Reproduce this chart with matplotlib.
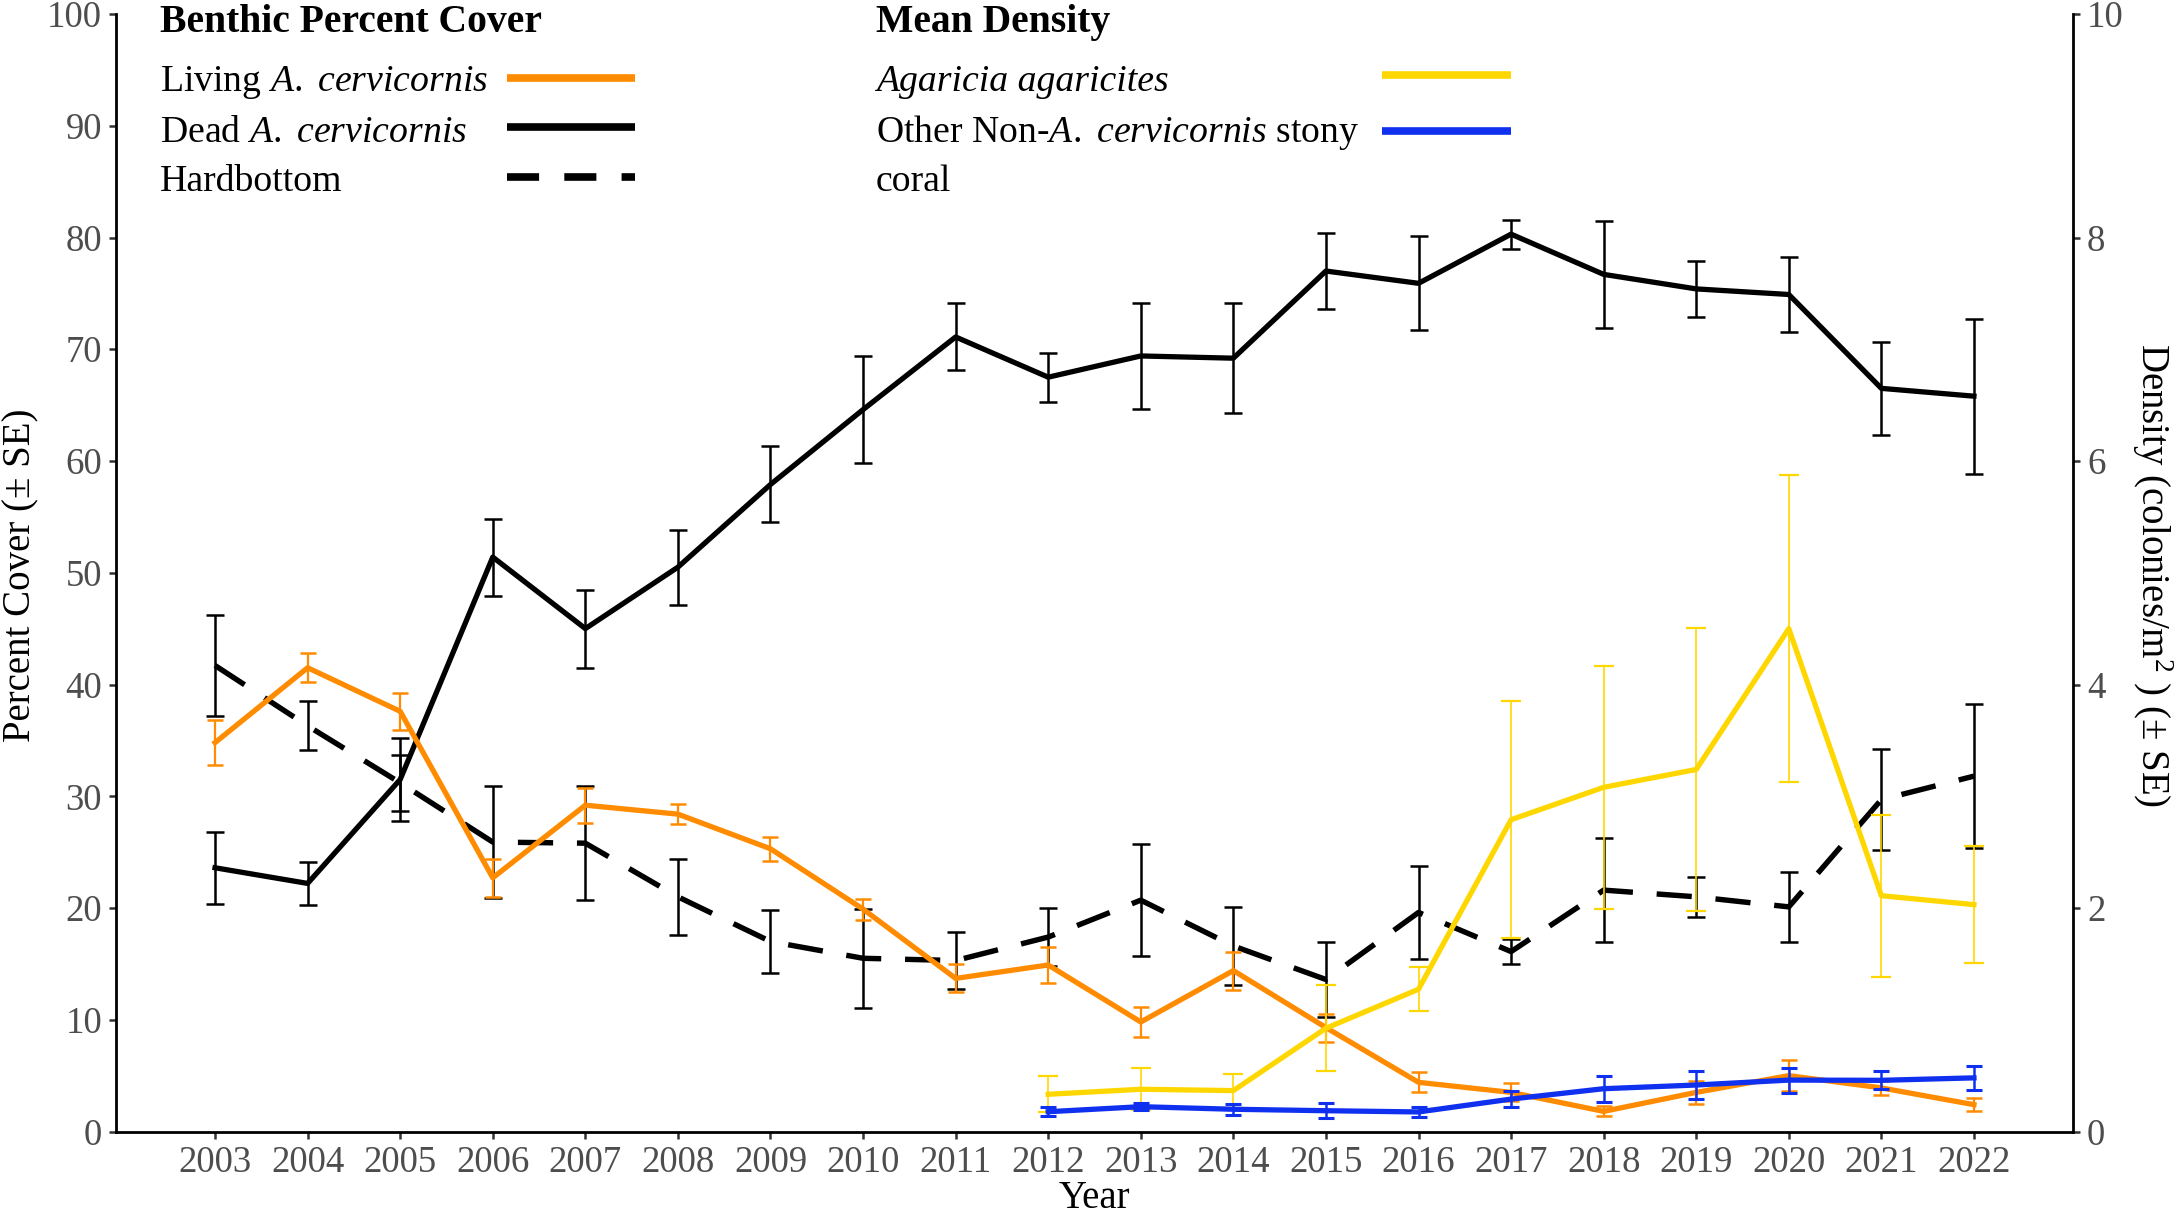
import matplotlib.pyplot as plt
from matplotlib.lines import Line2D

plt.rcParams['font.family'] = 'Liberation Serif'
plt.rcParams['mathtext.fontset'] = 'custom'
plt.rcParams['mathtext.rm'] = 'Liberation Serif'
plt.rcParams['mathtext.it'] = 'Liberation Serif:italic'
plt.rcParams['mathtext.bf'] = 'Liberation Serif:bold'

# benthic percent cover, 2003-2022
years = list(range(2003, 2023))
living = [34.8, 41.5, 37.6, 22.7, 29.2, 28.4, 25.3, 19.9, 13.7, 14.9,
          9.8, 14.4, 9.3, 4.4, 3.5, 1.8, 3.5, 5.0, 3.9, 2.4]
living_se = [2.0, 1.3, 1.65, 1.7, 1.55, 0.9, 1.05, 0.95, 1.25, 1.65,
             1.3, 1.7, 1.25, 0.9, 0.8, 0.45, 1.0, 1.4, 0.65, 0.6]
dead = [23.6, 22.2, 31.5, 51.4, 45.0, 50.5, 57.9, 64.6, 71.1, 67.5,
        69.4, 69.2, 77.0, 75.9, 80.3, 76.7, 75.4, 74.9, 66.5, 65.8]
dead_se = [3.2, 1.9, 3.7, 3.45, 3.5, 3.35, 3.4, 4.8, 3.0, 2.2,
           4.75, 4.9, 3.4, 4.2, 1.3, 4.8, 2.5, 3.35, 4.15, 6.95]
hardbottom = [41.7, 36.3, 31.2, 25.9, 25.8, 21.0, 17.0, 15.5, 15.3, 17.4,
              20.7, 16.6, 13.6, 19.6, 16.1, 21.6, 21.0, 20.1, 29.7, 31.8]
hardbottom_se = [4.5, 2.2, 2.5, 5.0, 5.1, 3.4, 2.85, 4.45, 2.55, 2.6,
                 5.0, 3.45, 3.35, 4.2, 1.1, 4.65, 1.8, 3.1, 4.55, 6.45]

# mean density (colonies/m2), 2012-2022
density_years = list(range(2012, 2023))
agaricia = [0.333, 0.378, 0.366, 0.924, 1.273, 2.79, 3.08, 3.24, 4.50, 2.11, 2.03]
agaricia_se = [0.161, 0.19, 0.152, 0.384, 0.195, 1.06, 1.085, 1.265, 1.375, 0.725, 0.525]
other_coral = [0.177, 0.222, 0.199, 0.186, 0.175, 0.29, 0.383, 0.416, 0.46, 0.458, 0.48]
other_coral_se = [0.042, 0.033, 0.048, 0.067, 0.045, 0.07, 0.117, 0.127, 0.112, 0.079, 0.11]

orange = '#FF8C00'
gold = '#FFD700'
blue = '#1030F0'
tick_grey = '#4D4D4D'

W, H = 2179, 1216
fig = plt.figure(figsize=(W / 100, H / 100), dpi=100)
ax = fig.add_axes([116 / W, 84.5 / H, (2073 - 116) / W, (1202 - 84.5) / H])
ax2 = ax.twinx()

# percent cover
ax.errorbar(years, dead, yerr=dead_se, fmt='none', ecolor='black',
            elinewidth=1.8, capsize=6.5, capthick=1.8)
ax.plot(years, dead, color='black', lw=3.8, solid_joinstyle='round')
ax.errorbar(years, hardbottom, yerr=hardbottom_se, fmt='none', ecolor='black',
            elinewidth=1.8, capsize=6.5, capthick=1.8)
ax.plot(years, hardbottom, color='black', lw=3.9, ls='--', dashes=(6.5, 4.4))
ax.errorbar(years, living, yerr=living_se, fmt='none', ecolor=orange,
            elinewidth=1.6, capsize=6.0, capthick=1.8)
ax.plot(years, living, color=orange, lw=3.8, solid_joinstyle='round')

# density
ax2.errorbar(density_years, agaricia, yerr=agaricia_se, fmt='none', ecolor=gold,
             elinewidth=1.2, capsize=7.0, capthick=1.6)
ax2.plot(density_years, agaricia, color=gold, lw=3.8, solid_joinstyle='round')
ax2.errorbar(density_years, other_coral, yerr=other_coral_se, fmt='none', ecolor=blue,
             elinewidth=1.8, capsize=6.0, capthick=2.2)
ax2.plot(density_years, other_coral, color=blue, lw=3.8, solid_joinstyle='round')

ax.set_xlim(2001.93, 2023.07)
ax.set_ylim(0, 100)
ax2.set_ylim(0, 10)
ax.set_xticks(years)
ax.set_yticks(range(0, 101, 10))
ax2.set_yticks(range(0, 11, 2))

for a in (ax, ax2):
    a.spines['top'].set_visible(False)
    for s in a.spines.values():
        s.set_linewidth(2.0)
    a.tick_params(labelsize=26.5, labelcolor=tick_grey, length=5, width=1.8,
                  color='#333333', pad=5)
ax.spines['right'].set_visible(False)
ax2.spines['left'].set_visible(False)
ax2.spines['bottom'].set_visible(False)

fig.text(1094 / W, 1 - 1199 / H, 'Year', fontsize=28, ha='center', va='center')
fig.text(21 / W, 1 - 575 / H, 'Percent Cover (± SE)', fontsize=28,
         rotation=90, ha='center', va='center')
fig.text(2152 / W, 1 - 575 / H, r'Density (colonies/$\mathrm{m}^{2}$ ) (± SE)',
         fontsize=28, rotation=270, ha='center', va='center')

# legend block, drawn by hand to get the ggplot layout
def fy(y):
    return 1 - y / H

fs = 27.2
fig.text(160 / W, fy(32), 'Benthic Percent Cover', fontsize=28.5,
         fontweight='bold', va='baseline')
fig.text(160 / W, fy(91), r'Living $\mathit{A.}$ $\mathit{cervicornis}$', fontsize=fs, va='baseline')
fig.text(160 / W, fy(142), r'Dead $\mathit{A.}$ $\mathit{cervicornis}$', fontsize=fs, va='baseline')
fig.text(160 / W, fy(191), 'Hardbottom', fontsize=fs, va='baseline')

fig.text(876 / W, fy(32), 'Mean Density', fontsize=28.5, fontweight='bold', va='baseline')
fig.text(876 / W, fy(91), 'Agaricia agaricites', fontsize=fs, style='italic', va='baseline')
fig.text(876 / W, fy(142), r'Other Non-$\mathit{A.}$ $\mathit{cervicornis}$ stony', fontsize=fs,
         va='baseline')
fig.text(876 / W, fy(191), 'coral', fontsize=fs, va='baseline')

keys = [(507, 635, 78, orange, '-'), (507, 635, 127, 'black', '-'),
        (507, 635, 177, 'black', '--'), (1382, 1511, 75, gold, '-'),
        (1382, 1511, 131, blue, '-')]
for x0, x1, y, c, ls in keys:
    ln = Line2D([x0 / W, x1 / W], [fy(y), fy(y)], transform=fig.transFigure,
                color=c, lw=5.5, solid_capstyle='butt', dash_capstyle='butt')
    if ls == '--':
        ln.set_dashes((4.2, 3.3))
    fig.add_artist(ln)

fig.savefig('out.png', dpi=100)
